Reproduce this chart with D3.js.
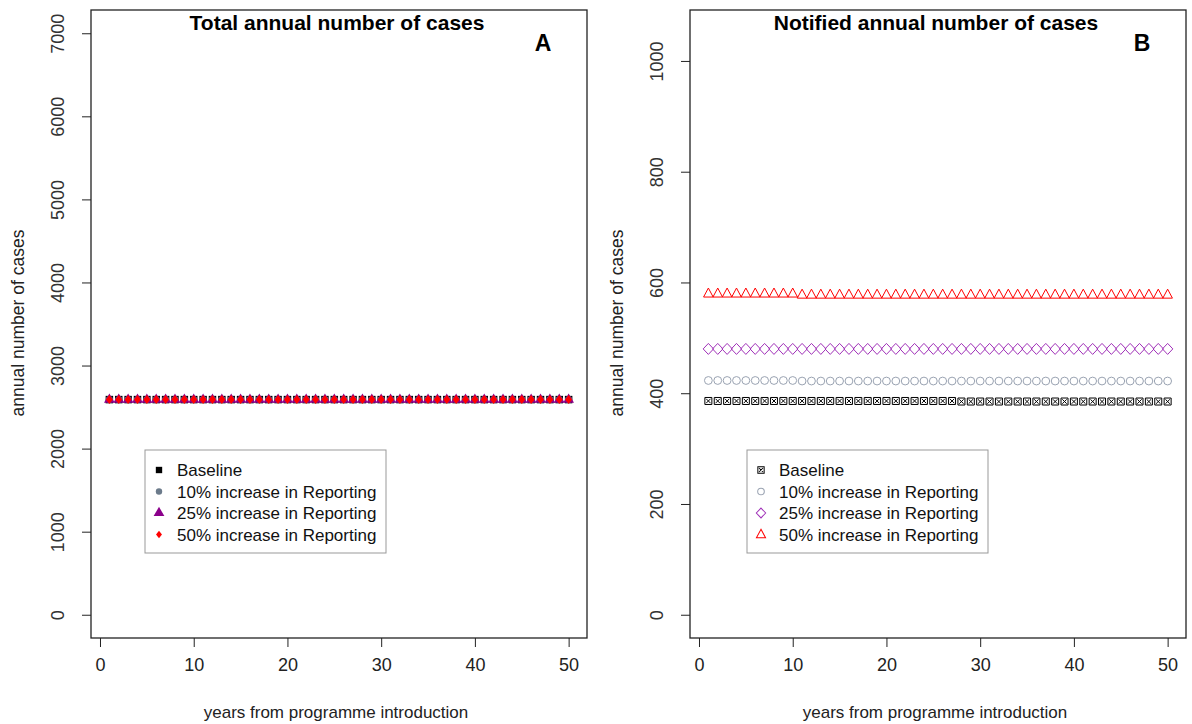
<!DOCTYPE html>
<html>
<head>
<meta charset="utf-8">
<script src="https://cdn.jsdelivr.net/npm/d3@7"></script>
<style>
  body { margin: 0; background: #fff; }
  text { font-family: "Liberation Sans", Arial, sans-serif; }
</style>
</head>
<body>
<svg id="chart" width="1192" height="724"></svg>
<script>
// data
var years = d3.range(1, 51);
var xTicks = [0, 10, 20, 30, 40, 50];
var yTicksA = [0, 1000, 2000, 3000, 4000, 5000, 6000, 7000];
var yTicksB = [0, 200, 400, 600, 800, 1000];
var seriesNames = ["Baseline", "10% increase in Reporting", "25% increase in Reporting", "50% increase in Reporting"];

// panel A: total annual cases (identical for all scenarios)
var totalBaseline = [2590,2590,2590,2590,2590,2590,2590,2590,2590,2590,2590,2590,2590,2590,2590,2590,2590,2590,2590,2590,2590,2590,2590,2590,2590,
                     2590,2590,2590,2590,2590,2590,2590,2590,2590,2590,2590,2590,2590,2590,2590,2590,2590,2590,2590,2590,2590,2590,2590,2590,2590];
var total10 = [2590,2590,2590,2590,2590,2590,2590,2590,2590,2590,2590,2590,2590,2590,2590,2590,2590,2590,2590,2590,2590,2590,2590,2590,2590,
               2590,2590,2590,2590,2590,2590,2590,2590,2590,2590,2590,2590,2590,2590,2590,2590,2590,2590,2590,2590,2590,2590,2590,2590,2590];
var total25 = [2590,2590,2590,2590,2590,2590,2590,2590,2590,2590,2590,2590,2590,2590,2590,2590,2590,2590,2590,2590,2590,2590,2590,2590,2590,
               2590,2590,2590,2590,2590,2590,2590,2590,2590,2590,2590,2590,2590,2590,2590,2590,2590,2590,2590,2590,2590,2590,2590,2590,2590];
var total50 = [2590,2590,2590,2590,2590,2590,2590,2590,2590,2590,2590,2590,2590,2590,2590,2590,2590,2590,2590,2590,2590,2590,2590,2590,2590,
               2590,2590,2590,2590,2590,2590,2590,2590,2590,2590,2590,2590,2590,2590,2590,2590,2590,2590,2590,2590,2590,2590,2590,2590,2590];

// panel B: notified annual cases
var notifBaseline = [386,386,386,386,386,386,386,386,386,386,386,386,386,386,386,386,386,386,386,386,386,386,386,386,386,
                     386,386,385,385,385,385,385,385,385,385,385,385,385,385,385,385,385,385,385,385,385,385,385,385,385];
var notif10 = [423,423,423,423,423,423,423,423,423,423,422,422,422,422,422,422,422,422,422,422,422,422,422,422,422,
               422,422,422,422,422,422,422,422,422,422,422,422,422,422,422,422,422,422,422,422,422,422,422,422,422];
var notif25 = [480,480,480,480,480,480,480,480,480,480,480,480,480,480,480,480,480,480,480,480,480,480,480,480,480,
               480,480,480,480,480,480,480,480,480,480,480,480,480,480,480,480,480,480,480,480,480,480,480,480,480];
var notif50 = [580,580,580,580,580,580,580,580,580,580,578,578,578,578,578,578,578,578,578,578,578,578,578,578,578,
               578,578,578,578,578,578,578,578,578,578,578,578,578,578,578,578,578,578,578,578,578,578,578,578,578];

var svg = d3.select("#chart");

function drawPanel(opt) {
  var g = svg.append("g");
  var x = d3.scaleLinear().domain([-0.96, 51.96]).range([opt.left, opt.right]);
  var y = d3.scaleLinear().domain(opt.yDomain).range([638, 10]);

  // series
  opt.series.forEach(function (s) {
    g.append("g").selectAll("path")
      .data(s.values)
      .enter().append("path")
      .attr("transform", function (d, i) { return "translate(" + x(years[i]) + "," + y(d) + ")"; })
      .attr("d", s.symbol)
      .attr("fill", s.fill)
      .attr("stroke", s.stroke)
      .attr("stroke-width", 1);
  });

  // box
  g.append("rect")
    .attr("x", opt.left).attr("y", 10)
    .attr("width", opt.right - opt.left).attr("height", 628)
    .attr("fill", "none").attr("stroke", "#222").attr("stroke-width", 1.3);

  var xAxis = g.append("g")
    .attr("transform", "translate(0,638)")
    .call(d3.axisBottom(x).tickValues(xTicks).tickSize(9).tickPadding(11).tickFormat(d3.format("d")));
  xAxis.select(".domain").remove();
  xAxis.selectAll("line").attr("stroke", "#222");
  xAxis.selectAll("text").style("font-size", "18px").attr("fill", "#222");

  var yAxis = g.append("g")
    .attr("transform", "translate(" + opt.left + ",0)")
    .call(d3.axisLeft(y).tickValues(opt.yTicks).tickSize(9).tickFormat(d3.format("d")));
  yAxis.select(".domain").remove();
  yAxis.selectAll("line").attr("stroke", "#222");
  yAxis.selectAll("text")
    .attr("x", null).attr("dy", null)
    .attr("transform", "translate(-32,0) rotate(-90)")
    .attr("text-anchor", "middle")
    .attr("dominant-baseline", "middle")
    .style("font-size", "18px").attr("fill", "#333");

  // titles
  g.append("text")
    .attr("x", (opt.left + opt.right) / 2 - 2).attr("y", 30)
    .attr("text-anchor", "middle")
    .style("font-size", "21px").style("font-weight", "bold")
    .text(opt.title);
  g.append("text")
    .attr("x", opt.right - 44).attr("y", 51)
    .attr("text-anchor", "middle")
    .style("font-size", "23px").style("font-weight", "bold")
    .text(opt.letter);

  g.append("text")
    .attr("x", (opt.left + opt.right) / 2 - 3).attr("y", 718)
    .attr("text-anchor", "middle")
    .style("font-size", "17px").attr("fill", "#222")
    .text("years from programme introduction");
  g.append("text")
    .attr("transform", "translate(" + (opt.left - 67) + ",323) rotate(-90)")
    .attr("text-anchor", "middle")
    .style("font-size", "17.5px").attr("fill", "#222")
    .text("annual number of cases");

  // legend
  var lg = g.append("g").attr("transform", "translate(" + (opt.left + opt.legendDx) + ",450)");
  lg.append("rect").attr("width", 241).attr("height", 103)
    .attr("fill", "#fff").attr("stroke", "#999").attr("stroke-width", 1);
  opt.series.forEach(function (s, i) {
    var cy = 20 + i * 21.5;
    lg.append("path")
      .attr("transform", "translate(14," + cy + ") scale(" + s.legendScale + ")")
      .attr("d", s.symbol)
      .attr("fill", s.fill).attr("stroke", s.stroke).attr("stroke-width", 1 / s.legendScale);
    lg.append("text")
      .attr("x", 32).attr("y", cy).attr("dy", "0.36em")
      .style("font-size", "17px").attr("fill", "#111")
      .text(seriesNames[i]);
  });
}

// symbol paths
var sq = d3.symbol().type(d3.symbolSquare).size(56)();
var circ = d3.symbol().type(d3.symbolCircle).size(40)();
var tri = d3.symbol().type(d3.symbolTriangle).size(50)();
var diamFill = "M0,-4.5L3.5,0L0,4.5L-3.5,0Z";
var sqX = "M-3.5,-3.5H3.5V3.5H-3.5Z M-2.2,-2.2L2.2,2.2 M2.2,-2.2L-2.2,2.2";
var circOpen = d3.symbol().type(d3.symbolCircle).size(48)();
var diamOpen = "M0,-5.5L5.2,0L0,5.5L-5.2,0Z";
var triOpen = "M0,-5.5L4.8,3.5L-4.8,3.5Z";

drawPanel({
  left: 91, right: 587,
  yDomain: [-280, 7280], yTicks: yTicksA,
  title: "Total annual number of cases", letter: "A", legendDx: 54,
  series: [
    { values: totalBaseline, symbol: sq, fill: "#000", stroke: "none", legendScale: 0.85 },
    { values: total10, symbol: circ, fill: "#6C7B8B", stroke: "none", legendScale: 0.9 },
    { values: total25, symbol: tri, fill: "#8B008B", stroke: "none", legendScale: 1 },
    { values: total50, symbol: diamFill, fill: "#FF0000", stroke: "none", legendScale: 0.85 }
  ]
});

drawPanel({
  left: 690, right: 1186,
  yDomain: [-42, 1092], yTicks: yTicksB,
  title: "Notified annual number of cases", letter: "B", legendDx: 57,
  series: [
    { values: notifBaseline, symbol: sqX, fill: "none", stroke: "#000", legendScale: 0.9 },
    { values: notif10, symbol: circOpen, fill: "none", stroke: "#9AA3B2", legendScale: 0.85 },
    { values: notif25, symbol: diamOpen, fill: "none", stroke: "#A030B8", legendScale: 0.9 },
    { values: notif50, symbol: triOpen, fill: "none", stroke: "#FF0000", legendScale: 0.95 }
  ]
});
</script>
</body>
</html>
